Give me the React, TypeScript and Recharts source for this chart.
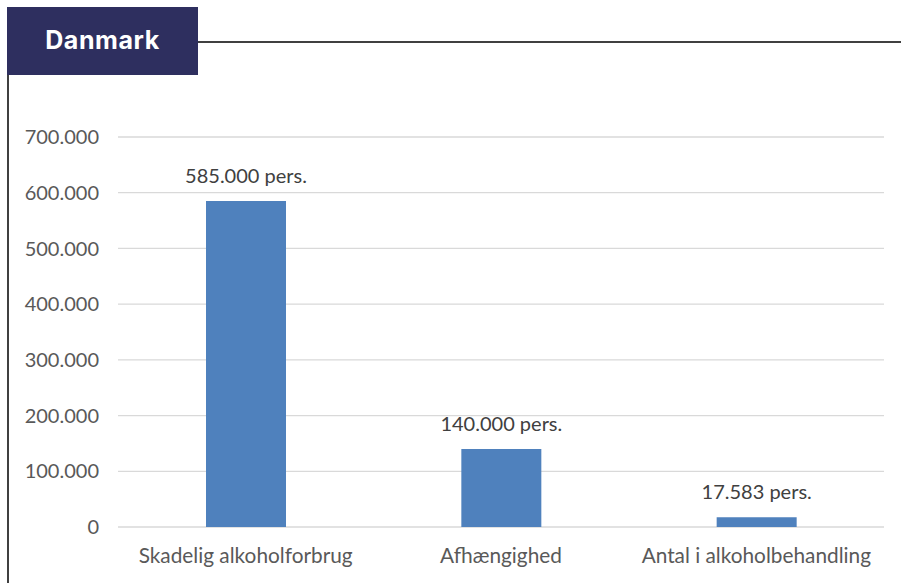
import { Bar, BarChart, CartesianGrid, LabelList, XAxis, YAxis } from 'recharts';

const categories = ['Skadelig alkoholforbrug', 'Afhængighed', 'Antal i alkoholbehandling'];
const persons = [585000, 140000, 17583];
const yTicks = [0, 100000, 200000, 300000, 400000, 500000, 600000, 700000];

const data = categories.map((name, i) => ({ name, persons: persons[i] }));

const NAVY = '#2E2F5F';
const RULE = '#404040';
const BAR = '#4F81BD';
const FONT = 'Lato, "Open Sans", sans-serif';

// Danish grouping: 585000 -> "585.000"
const formatDa = (v: number) => String(Math.round(v)).replace(/\B(?=(\d{3})+(?!\d))/g, '.');

// value label above each bar, kept on one line
const renderValue = (props: any) => {
  const { x, y, width, value } = props;
  return (
    <text
      x={Number(x) + Number(width) / 2}
      y={Number(y) - 18}
      textAnchor="middle"
      fill="#404040"
      fontSize={20}
      fontFamily={FONT}
    >
      {`${formatDa(Number(value))} pers.`}
    </text>
  );
};

export default function App() {
  return (
    <div
      style={{
        position: 'absolute',
        left: 0,
        top: 0,
        width: 901,
        height: 583,
        background: '#fff',
        overflow: 'hidden',
        fontFamily: FONT
      }}
    >
      <div
        style={{
          position: 'absolute',
          left: 7,
          top: 7,
          width: 191,
          height: 68,
          background: NAVY,
          color: '#fff',
          display: 'flex',
          alignItems: 'center',
          justifyContent: 'center',
          fontFamily: 'Inter, sans-serif',
          fontWeight: 700,
          fontSize: 25,
          letterSpacing: 0.6,
          paddingBottom: 2,
          boxSizing: 'border-box'
        }}
      >
        Danmark
      </div>
      <div style={{ position: 'absolute', left: 198, top: 41, width: 703, height: 2, background: RULE }} />
      <div style={{ position: 'absolute', left: 7, top: 75, width: 2, height: 508, background: RULE }} />

      <div style={{ position: 'absolute', left: 0, top: 0 }}>
        <BarChart
          width={901}
          height={583}
          data={data}
          margin={{ top: 137, right: 17, bottom: 0, left: 0 }}
          barSize={80}
        >
          <CartesianGrid stroke="#D9D9D9" strokeWidth={1.3} vertical={false} />
          <XAxis
            dataKey="name"
            axisLine={false}
            tickLine={false}
            tickSize={0}
            tickMargin={21}
            height={56}
            interval={0}
            tick={{ fill: '#595959', fontSize: 20.8, fontFamily: FONT }}
          />
          <YAxis
            width={118}
            domain={[0, 700000]}
            ticks={yTicks}
            axisLine={false}
            tickLine={false}
            tickSize={0}
            tickMargin={19}
            tickFormatter={formatDa}
            tick={{ fill: '#595959', fontSize: 20, fontFamily: FONT }}
          />
          <Bar dataKey="persons" fill={BAR} isAnimationActive={false}>
            <LabelList dataKey="persons" content={renderValue} />
          </Bar>
        </BarChart>
      </div>
    </div>
  );
}
